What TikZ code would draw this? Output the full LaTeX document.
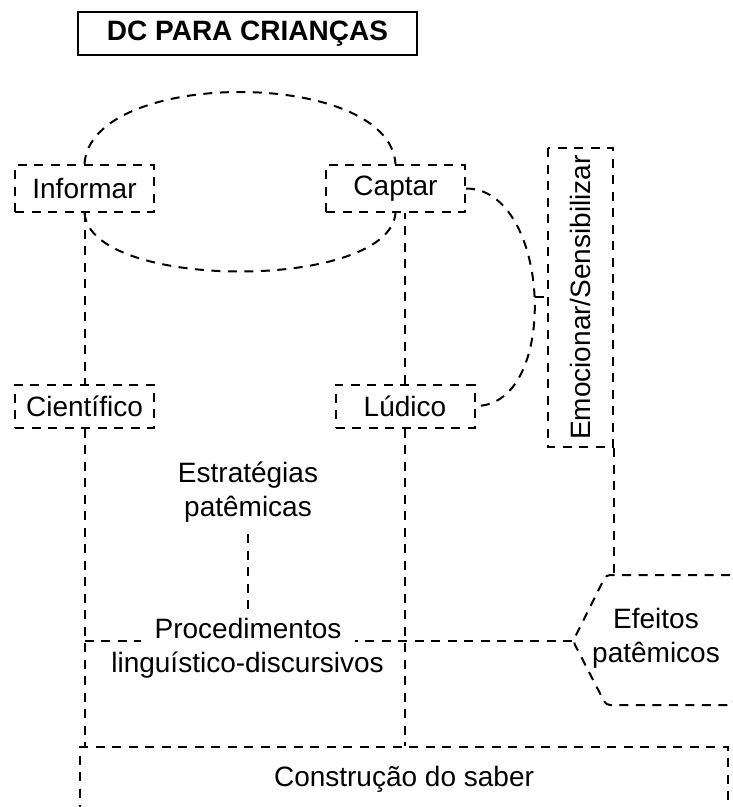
\documentclass[tikz,border=0pt]{standalone}
\usepackage{fontspec}
\setmainfont{Liberation Sans}
\usetikzlibrary{calc}
\begin{document}
\begin{tikzpicture}[x=1pt,y=-1pt,
  every node/.style={font=\fontsize{28}{34}\selectfont, inner sep=0pt},
  dsh/.style={line width=2pt, dash pattern=on 9pt off 7.5pt},
  tag/.style={draw, dsh, minimum width=139pt, align=center},
]
\clip (0,0) rectangle (733,807);
\fill[white] (0,0) rectangle (733,807);

% title
\node[draw, line width=1.6pt, minimum width=339pt, minimum height=43pt,
      font=\fontsize{28}{34}\selectfont\bfseries] (title) at (247.5,33.5) {DC PARA CRIANÇAS};

% upper boxes
\node[tag, minimum height=47pt] (inf) at (84.5,188.5) {Informar};
\node[tag, minimum height=47pt] (cap) at (395.5,188.5) {Captar};
\node[tag, minimum height=43pt] (cie) at (84.5,406) {Científico};
\node[tag, minimum height=43pt] (lud) at (405,406) {Lúdico};
\node[draw, dsh, rotate=90, minimum width=299pt, minimum height=65pt] (emo) at (580.5,297.5) {Emocionar/Sensibilizar};

% middle texts
\node[align=center, inner ysep=12pt] (est) at (248,492) {Estratégias\\patêmicas};
\node[anchor=base] (procB) at (247.5,672) {linguístico-discursivos};

% effects shape
\node[align=center] (efe) at (656,638) {Efeitos\\patêmicos};
\coordinate (efL) at (573,641);
\coordinate (efTop) at (613,575);
\draw[dsh, rounded corners=4pt] (734,575) -- (606,575) -- (efL) -- (606,705) -- (734,705) -- cycle;

% base
\node[draw, dsh, minimum width=648pt, minimum height=65pt] (sab) at (404,779.5) {Construção do saber};

% connectors
\draw[dsh] (inf.north) .. controls +(6,-96) and +(-6,-96) .. (cap.north);
\draw[dsh] (inf.south) .. controls +(6,78) and +(-6,78) .. (cap.south);
\draw[dsh] (inf) -- (cie);
\draw[dsh] (lud.north) -- (lud.north |- cap.south);
\draw[dsh] (cap.east) to[out=0,in=0] coordinate[pos=0.5] (apex) (lud.east);
\draw[dsh] (apex) -- (apex -| emo.north);
\draw[dsh] (emo.south west) -- (emo.south west |- efTop);
\draw[dsh] (cie.south) -- (cie.south |- sab.north);
\draw[dsh] (lud.south) -- (lud.south |- sab.north);
\draw[dsh] (cie.south |- efL) -- (efL);

\node[fill=white, inner xsep=14pt, inner ysep=4pt, anchor=base] (procA) at (248,638) {Procedimentos};
\draw[dsh] (est) -- (procA);
\end{tikzpicture}
\end{document}
